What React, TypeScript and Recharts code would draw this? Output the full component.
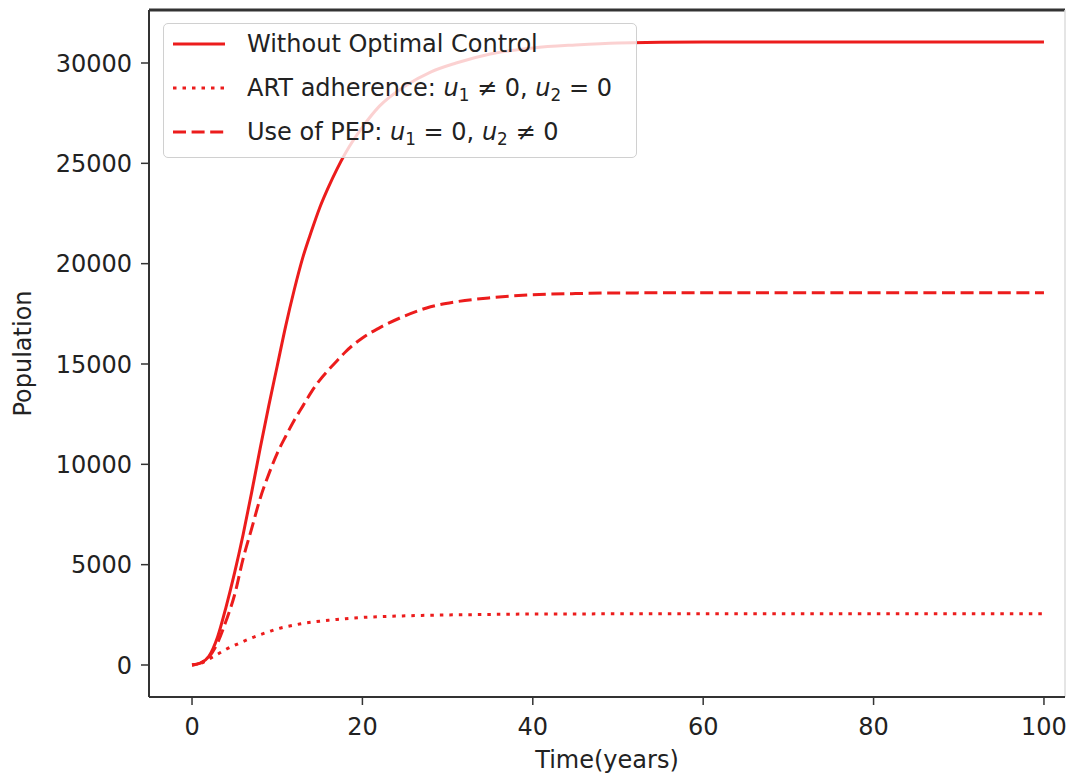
import React from 'react';
import { LineChart, Line, XAxis, YAxis, Legend, ReferenceLine } from 'recharts';

const times = [0, 1, 2, 3, 4, 5, 6, 7, 8, 9, 10, 11, 12, 13, 14, 15, 16, 17, 18, 20, 22, 25, 28, 31, 35, 40, 45, 50, 60, 70, 80, 90, 100];
const withoutControl = [0, 100, 450, 1400, 2900, 4600, 6500, 8600, 10800, 12900, 14900, 16900, 18700, 20300, 21600, 22800, 23800, 24700, 25500, 26800, 27850, 28850, 29550, 30000, 30450, 30750, 30900, 31000, 31050, 31050, 31050, 31050, 31050];
const artAdherence = [0, 80, 300, 540, 780, 980, 1170, 1350, 1510, 1660, 1800, 1900, 1990, 2070, 2130, 2180, 2230, 2270, 2310, 2370, 2410, 2450, 2480, 2500, 2520, 2540, 2545, 2550, 2550, 2550, 2550, 2550, 2550];
const usePep = [0, 100, 400, 1100, 2200, 3500, 5300, 6800, 8300, 9500, 10550, 11400, 12200, 12900, 13600, 14200, 14700, 15150, 15600, 16300, 16800, 17400, 17850, 18100, 18300, 18450, 18510, 18540, 18550, 18550, 18550, 18550, 18550];

const xTicks = [0, 20, 40, 60, 80, 100];
const yTicks = [0, 5000, 10000, 15000, 20000, 25000, 30000];
const xDomain = [-5.05, 102.47];
const yDomain = [-1595, 32641];

const data = times.map((t, i) => ({
  t,
  a: withoutControl[i],
  b: artAdherence[i],
  c: usePep[i],
}));

const RED = '#ec1c1c';
const FONT = '"DejaVu Sans", Verdana, sans-serif';
const TEXT = '#222';

const U = ({ n }: { n: number }) => (
  <span>
    <i>u</i>
    <span style={{ fontSize: '0.7em', position: 'relative', top: '0.3em' }}>{n}</span>
  </span>
);

const rows = [
  { dash: undefined as string | undefined, label: <span>Without Optimal Control</span> },
  {
    dash: '3.5 6',
    label: (
      <span>
        ART adherence: <U n={1} /> ≠ 0, <U n={2} /> = 0
      </span>
    ),
  },
  {
    dash: '13 5.6',
    label: (
      <span>
        Use of PEP: <U n={1} /> = 0, <U n={2} /> ≠ 0
      </span>
    ),
  },
];

const renderLegend = () => (
  <div
    style={{
      width: 474,
      height: 135,
      boxSizing: 'border-box',
      border: '1.5px solid #d0d0d0',
      borderRadius: 5,
      background: 'rgba(255,255,255,0.8)',
      fontFamily: FONT,
      fontSize: 24,
      color: TEXT,
    }}
  >
    {rows.map((r, i) => (
      <div
        key={i}
        style={{ height: 44, display: 'flex', alignItems: 'center', marginTop: i === 0 ? -2 : 0, whiteSpace: 'nowrap' }}
      >
        <svg width={52} height={10} style={{ marginLeft: 9, marginRight: 22, flex: 'none' }}>
          <line x1={0} y1={5} x2={52} y2={5} stroke={RED} strokeWidth={3} strokeDasharray={r.dash} />
        </svg>
        {r.label}
      </div>
    ))}
  </div>
);

const YLabel = (props: any) => {
  const vb = props.viewBox || {};
  const x = vb.x + 23;
  const y = vb.y + vb.height / 2;
  return (
    <text
      x={x}
      y={y}
      transform={`rotate(-90, ${x}, ${y})`}
      textAnchor="middle"
      dominantBaseline="central"
      fontFamily={FONT}
      fontSize={24}
      fill={TEXT}
    >
      Population
    </text>
  );
};

export default function App() {
  const tickStyle = { fontFamily: FONT, fontSize: 24, fill: TEXT };
  return (
    <div style={{ position: 'absolute', left: 0, top: 0, width: 1067, height: 777, background: '#fff' }}>
      <LineChart width={1067} height={777} data={data} margin={{ top: 10, right: 2, left: 0, bottom: 0 }}>
        <XAxis
          dataKey="t"
          type="number"
          domain={xDomain}
          ticks={xTicks}
          allowDataOverflow
          height={80}
          tick={tickStyle}
          tickSize={8}
          tickMargin={13}
          tickLine={{ stroke: '#333', strokeWidth: 1.5 }}
          axisLine={{ stroke: '#333', strokeWidth: 2 }}
          label={{ value: 'Time(years)', position: 'insideBottom', offset: 9, style: { fontFamily: FONT, fontSize: 24, fill: TEXT } }}
        />
        <YAxis
          type="number"
          domain={yDomain}
          ticks={yTicks}
          allowDataOverflow
          width={149}
          tick={tickStyle}
          tickSize={8}
          tickMargin={9}
          tickLine={{ stroke: '#333', strokeWidth: 1.5 }}
          axisLine={{ stroke: '#333', strokeWidth: 2 }}
          label={<YLabel />}
        />
        <ReferenceLine y={yDomain[1]} stroke="#333" strokeWidth={3} ifOverflow="visible" />
        <ReferenceLine x={xDomain[1]} stroke="#ddd" strokeWidth={1.5} ifOverflow="visible" />
        <Line type="monotone" dataKey="a" stroke={RED} strokeWidth={3} dot={false} isAnimationActive={false} />
        <Line type="monotone" dataKey="b" stroke={RED} strokeWidth={3} strokeDasharray="3.5 6" dot={false} isAnimationActive={false} />
        <Line type="monotone" dataKey="c" stroke={RED} strokeWidth={3} strokeDasharray="13 5.6" dot={false} isAnimationActive={false} />
        <Legend
          layout="horizontal"
          verticalAlign="middle"
          align="center"
          content={renderLegend}
          wrapperStyle={{ left: 163, top: 23, width: 474, height: 135 }}
        />
      </LineChart>
    </div>
  );
}
